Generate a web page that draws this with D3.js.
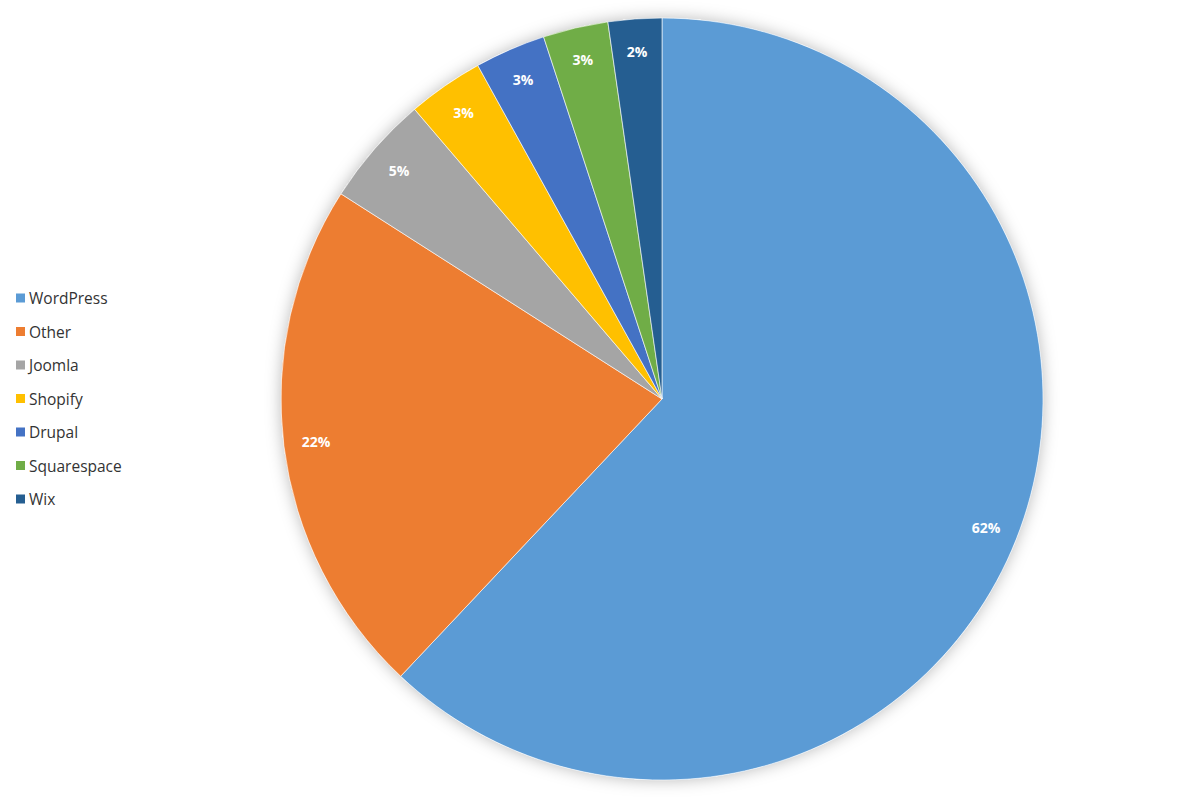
<!DOCTYPE html>
<html>
<head>
<meta charset="utf-8">
<script src="https://cdn.jsdelivr.net/npm/d3@7"></script>
<style>
  html, body { margin: 0; padding: 0; background: #fff; }
  svg { display: block; }
</style>
</head>
<body>
<svg id="chart" width="1200" height="798"></svg>
<script>
const categories = ["WordPress", "Other", "Joomla", "Shopify", "Drupal", "Squarespace", "Wix"];
const shares = [62.03, 22.02, 4.7, 3.22, 3.0, 2.76, 2.27];
const colors = ["#5B9BD5", "#ED7D31", "#A5A5A5", "#FFC000", "#4472C4", "#70AD47", "#255E91"];

const data = categories.map((c, i) => ({ name: c, value: shares[i], color: colors[i] }));

const svg = d3.select("#chart");
const cx = 662, cy = 399, R = 381;

const defs = svg.append("defs");
const f = defs.append("filter").attr("id", "shadow")
  .attr("x", "-10%").attr("y", "-10%").attr("width", "120%").attr("height", "120%");
f.append("feDropShadow").attr("dx", 0).attr("dy", 0)
  .attr("stdDeviation", 8).attr("flood-color", "#000").attr("flood-opacity", 0.28);

const pie = d3.pie().value(d => d.value).sort(null);
const arcs = pie(data);
const arc = d3.arc().innerRadius(0).outerRadius(R);
const labelArc = d3.arc().innerRadius(R * 0.915).outerRadius(R * 0.915);

const g = svg.append("g").attr("transform", `translate(${cx},${cy})`);
g.append("circle").attr("r", R).attr("fill", "#fff").attr("filter", "url(#shadow)");
g.selectAll("path.slice").data(arcs).join("path")
  .attr("class", "slice")
  .attr("d", arc)
  .attr("fill", d => d.data.color)
  .attr("stroke", "#fff")
  .attr("stroke-width", 0.6);

g.selectAll("text.lbl").data(arcs).join("text")
  .attr("class", "lbl")
  .attr("transform", d => `translate(${labelArc.centroid(d)})`)
  .attr("text-anchor", "middle")
  .attr("dominant-baseline", "central")
  .attr("font-family", "'Open Sans', 'Noto Sans', sans-serif")
  .attr("font-weight", "bold")
  .attr("font-size", 14)
  .attr("fill", "#fff")
  .text(d => Math.round(d.data.value) + "%");

const legendY = d3.scalePoint().domain(categories).range([298, 499]);
const lg = svg.append("g");
const items = lg.selectAll("g.item").data(data).join("g")
  .attr("class", "item")
  .attr("transform", d => `translate(16,${legendY(d.name)})`);
items.append("rect").attr("x", 0).attr("y", -4.5).attr("width", 9).attr("height", 9)
  .attr("fill", d => d.color);
items.append("text").attr("x", 13).attr("y", 0)
  .attr("dominant-baseline", "central")
  .attr("font-family", "'Open Sans', 'Noto Sans', sans-serif")
  .attr("font-size", 15.5)
  .attr("fill", "#333")
  .text(d => d.name);
</script>
</body>
</html>
